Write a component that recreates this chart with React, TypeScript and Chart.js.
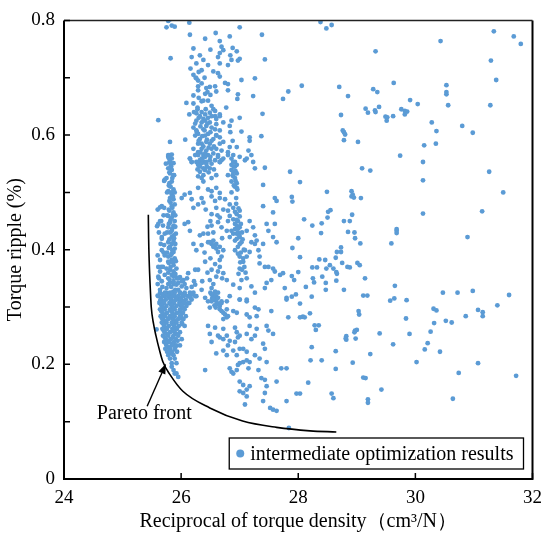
import React, { useEffect, useRef } from "react";
import { Chart, registerables } from "chart.js";

Chart.register(...registerables);

// ---------- axis settings ----------
const xMin = 24;
const xMax = 32;
const xStep = 2;
const yMin = 0;
const yMax = 0.8;
const yStep = 0.2;
const yMinorStep = 0.1;

const xTitle = "Reciprocal of torque density（cm³/N）";
const yTitle = "Torque ripple (%)";
const legendLabel = "intermediate optimization results";
const annotationText = "Pareto front";

// ---------- Pareto front curve ----------
const paretoX = [25.44, 25.445, 25.455, 25.47, 25.49, 25.53, 25.57, 25.63, 25.69, 25.81, 26.03, 26.49, 27.05, 27.63, 28.2, 28.65];
const paretoY = [0.461, 0.42, 0.38, 0.34, 0.3, 0.27, 0.25, 0.225, 0.204, 0.182, 0.153, 0.124, 0.101, 0.09, 0.084, 0.082];

// arrow: tail (near text) -> tip (on the front)
const arrowX = [25.42, 25.74];
const arrowY = [0.127, 0.201];
const annotationPos = [24.56, 0.113];

// ---------- scatter data ----------
const upperCloud: [number, number][] = [
  [25.78,0.799],[25.81,0.802],[25.75,0.788],[25.84,0.791],[25.89,0.789],[26.14,0.796],[27.00,0.788],[26.59,0.778],[26.15,0.775],[26.41,0.768],
  [26.66,0.764],[26.83,0.772],[27.38,0.775],[26.21,0.751],[26.50,0.749],[26.69,0.754],[26.72,0.748],[26.88,0.752],[26.95,0.746],[25.82,0.734],
  [27.43,0.732],[26.18,0.736],[26.32,0.739],[26.66,0.743],[26.63,0.736],[26.84,0.739],[27.00,0.733],[26.86,0.731],[26.97,0.730],[26.26,0.725],
  [26.38,0.731],[26.46,0.722],[26.66,0.725],[26.80,0.722],[26.16,0.716],[26.35,0.713],[26.55,0.711],[26.63,0.708],[26.21,0.705],[26.26,0.699],
  [26.66,0.702],[26.29,0.695],[27.03,0.696],[27.26,0.699],[26.75,0.691],[26.80,0.689],[26.29,0.685],[26.43,0.682],[26.49,0.684],[26.58,0.685],
  [26.60,0.676],[26.80,0.678],[26.29,0.678],[26.41,0.672],[26.21,0.669],[26.97,0.671],[27.23,0.668],[27.83,0.676],[27.74,0.663],[26.09,0.656],
  [26.21,0.655],[26.35,0.659],[26.52,0.651],[26.55,0.645],[26.77,0.648],[26.96,0.663],[26.14,0.636],[26.26,0.638],[26.41,0.636],[26.49,0.639],
  [26.58,0.642],[26.66,0.636],[27.00,0.630],[27.39,0.637],[25.61,0.626],[26.86,0.625],[26.83,0.616],[26.72,0.622],[27.03,0.606],[27.17,0.596],
  [27.17,0.590],[27.37,0.598],[25.81,0.588],[26.07,0.592],[25.78,0.565],[25.84,0.566],[25.81,0.553],[26.15,0.559],[26.18,0.553],[26.66,0.553],
  [26.80,0.570],[26.95,0.579],[26.89,0.565],[27.15,0.573],[27.20,0.565],[27.23,0.553],[27.09,0.556],
  [26.21,0.613],[26.26,0.608],[26.24,0.599],[26.29,0.602],[26.32,0.593],[26.38,0.610],[26.43,0.616],[26.35,0.622],[26.49,0.622],[26.52,0.613],
  [26.58,0.610],[26.60,0.619],[26.66,0.608],[26.46,0.602],[26.41,0.599],[26.35,0.585],[26.29,0.585],[26.43,0.588],[26.49,0.585],[26.55,0.593],
  [26.60,0.599],[26.66,0.596],[26.72,0.588],[26.52,0.576],[26.43,0.573],[26.35,0.576],[26.29,0.570],[26.38,0.565],[26.46,0.565],[26.55,0.568],
  [26.60,0.576],[26.69,0.573],[26.49,0.556],[26.58,0.556],[26.38,0.553],[26.26,0.553],[26.32,0.550],[26.43,0.550],[26.72,0.559],[26.63,0.565],
  [26.21,0.576],[26.24,0.565],[26.66,0.585],[26.52,0.633],[26.58,0.633],[26.60,0.628],[26.66,0.633],[26.46,0.630],[26.32,0.633],[26.26,0.625],
  [26.41,0.625],[26.84,0.605],[26.88,0.590],[26.83,0.579],[26.92,0.553],[26.86,0.548],
];

const middleCloud: [number, number][] = [
  [26.15,0.559],[26.18,0.553],[26.29,0.565],[26.32,0.556],[26.35,0.551],[26.41,0.562],[26.43,0.553],[26.38,0.542],[26.32,0.536],[26.35,0.525],
  [26.38,0.519],[26.49,0.542],[26.52,0.525],[26.60,0.530],[26.66,0.553],[26.63,0.562],[26.69,0.556],[26.80,0.530],[26.89,0.536],[26.92,0.525],
  [26.95,0.516],[26.92,0.510],[26.86,0.519],[26.95,0.548],[27.00,0.562],[26.80,0.565],[27.12,0.559],[27.26,0.542],[27.43,0.543],[27.40,0.513],
  [26.29,0.508],[26.46,0.505],[26.52,0.502],[26.60,0.508],[26.66,0.499],[26.06,0.496],[26.01,0.490],[26.15,0.499],[26.18,0.488],[26.21,0.473],
  [26.29,0.479],[26.38,0.482],[26.52,0.493],[26.58,0.485],[26.66,0.490],[26.75,0.488],[26.83,0.479],[26.80,0.468],[26.72,0.470],[26.60,0.473],
  [26.52,0.462],[26.66,0.456],[26.63,0.448],[26.69,0.439],[26.52,0.442],[26.46,0.428],[26.32,0.425],[26.38,0.428],[26.15,0.433],[26.12,0.448],
  [26.06,0.445],[26.21,0.410],[26.35,0.408],[26.26,0.399],[26.46,0.413],[26.52,0.410],[26.58,0.408],[26.60,0.402],[26.55,0.416],[26.66,0.382],
  [26.69,0.388],[26.66,0.370],[26.63,0.362],[26.72,0.359],[26.60,0.353],[26.52,0.365],[26.41,0.379],[26.29,0.365],[26.24,0.365],[26.12,0.359],
  [26.49,0.347],[26.78,0.347],[26.89,0.339],[27.00,0.333],[27.03,0.347],[27.12,0.350],[27.00,0.367],[27.06,0.379],[27.12,0.388],[27.09,0.399],
  [27.17,0.396],[27.26,0.410],[27.32,0.399],[27.34,0.388],[27.34,0.376],[27.43,0.370],[27.49,0.370],[27.57,0.367],[27.60,0.362],[27.54,0.347],
  [27.46,0.342],[27.43,0.333],[27.20,0.336],[27.26,0.325],[27.12,0.313],[27.00,0.313],[26.83,0.319],[26.78,0.310],[27.77,0.333],[27.80,0.316],
  [27.69,0.356],[27.74,0.359],[27.57,0.422],[27.63,0.413],[27.49,0.433],[27.46,0.445],[27.60,0.445],[27.57,0.465],[27.40,0.476],[27.60,0.490],
  [27.63,0.485],[27.17,0.450],[27.23,0.439],[27.12,0.433],[27.26,0.425],[27.29,0.416],[27.20,0.413],[27.40,0.410],
  [26.89,0.473],[26.95,0.462],[26.97,0.450],[26.92,0.445],[27.00,0.439],[26.95,0.428],[27.00,0.422],[27.03,0.413],[26.97,0.405],[26.92,0.416],
  [26.86,0.433],[26.89,0.453],[27.00,0.468],[26.83,0.459],[26.80,0.450],[26.78,0.433],[26.83,0.422],[26.92,0.436],[26.97,0.430],[26.95,0.442],
  [26.89,0.428],[26.95,0.419],[26.92,0.399],[26.97,0.393],[27.00,0.388],[26.86,0.559],[26.89,0.553],[26.92,0.545],[26.86,0.539],[26.95,0.533],
  [26.89,0.528],[26.95,0.508],[26.29,0.548],[26.35,0.559],[26.32,0.545],[26.38,0.530],[26.41,0.539],[26.29,0.528],[26.49,0.413],[26.60,0.410],
  [26.66,0.405],[26.72,0.399],[26.63,0.396],[26.55,0.405],[26.52,0.333],[26.58,0.327],[26.63,0.325],[26.55,0.319],[26.60,0.313],[26.69,0.310],
  [26.52,0.310],[26.24,0.339],[26.35,0.330],[26.26,0.319],[26.41,0.316],
];

const leftBand: [number, number][] = [
  [25.81,0.565],[25.84,0.559],[25.80,0.553],[25.82,0.548],[25.84,0.539],[25.81,0.533],[25.75,0.525],[25.71,0.520],[25.84,0.519],[25.82,0.510],
  [25.87,0.505],[25.84,0.496],[25.87,0.488],[25.82,0.482],[25.67,0.476],[25.71,0.473],[25.85,0.473],[25.87,0.465],[25.84,0.456],[25.89,0.450],
  [25.87,0.442],[25.64,0.450],[25.61,0.445],[25.69,0.442],[25.84,0.433],[25.91,0.428],[25.72,0.428],[25.84,0.422],[25.67,0.419],[25.87,0.415],
  [25.71,0.408],[25.81,0.405],[25.89,0.402],[25.67,0.399],[25.84,0.393],[25.72,0.390],[25.89,0.385],[25.64,0.382],[25.78,0.379],[25.87,0.373],
  [25.69,0.370],[25.92,0.367],[25.81,0.365],[25.64,0.362],[25.72,0.356],[25.87,0.353],[25.95,0.350],[26.04,0.347],[25.67,0.345],[25.81,0.342],
  [25.92,0.339],[26.01,0.336],[26.09,0.333],[25.75,0.333],[25.64,0.330],[25.87,0.327],[25.98,0.325],[26.06,0.322],[26.15,0.319],[25.72,0.319],
  [25.81,0.316],[25.92,0.313],[26.04,0.310],[25.64,0.310],[26.12,0.307],
  [25.78,0.562],[25.87,0.551],[25.78,0.542],[25.87,0.530],[25.80,0.516],[25.78,0.502],[25.81,0.490],[25.89,0.479],[25.80,0.468],[25.78,0.459],
  [25.81,0.448],[25.78,0.439],[25.87,0.425],[25.78,0.413],[25.85,0.399],[25.78,0.388],[25.84,0.382],[25.75,0.367],[25.87,0.362],[25.78,0.350],
  [25.87,0.345],[25.75,0.325],[25.89,0.319],[25.84,0.310],[25.98,0.313],[25.95,0.330],[26.01,0.345],
  [25.64,0.474],[25.59,0.441],[25.67,0.422],[25.72,0.522],[25.61,0.370],[25.61,0.353],[25.58,0.261],
  [25.90,0.358],[25.98,0.352],[26.06,0.340],[26.10,0.350],[26.18,0.335],[26.22,0.345],[25.95,0.342],
];

// extra points in the densest columns
const denseExtras: [number, number][] = [
  [25.79,0.560],[25.83,0.545],[25.80,0.535],[25.85,0.525],[25.79,0.512],[25.83,0.500],[25.86,0.493],[25.80,0.485],[25.84,0.476],[25.79,0.470],
  [25.86,0.461],[25.82,0.452],[25.79,0.445],[25.85,0.437],[25.81,0.430],[25.88,0.420],[25.80,0.418],[25.84,0.410],[25.79,0.403],[25.87,0.396],
  [25.82,0.390],[25.79,0.377],[25.86,0.378],[25.82,0.370],[25.78,0.360],[25.84,0.356],[25.80,0.348],[25.88,0.340],[25.83,0.335],[25.78,0.340],
  [25.85,0.325],[25.80,0.322],[25.90,0.330],[25.76,0.395],[25.76,0.430],[25.76,0.460],[25.76,0.500],[25.90,0.460],[25.90,0.440],[25.90,0.410],
  [25.91,0.380],[25.90,0.355],[25.93,0.350],[25.74,0.550],[25.88,0.530],[25.89,0.500],
  [25.60,0.470],[25.62,0.430],[25.65,0.410],[25.60,0.390],[25.66,0.370],[25.62,0.350],[25.68,0.335],[25.60,0.320],[25.70,0.460],[25.66,0.450],
  [25.70,0.395],[25.60,0.340],
  [26.22,0.640],[26.28,0.645],[26.35,0.640],[26.42,0.645],[26.30,0.630],[26.38,0.628],[26.45,0.620],[26.24,0.620],[26.33,0.615],[26.40,0.608],
  [26.50,0.605],[26.27,0.605],[26.36,0.598],[26.44,0.592],[26.52,0.590],[26.30,0.590],[26.38,0.580],[26.47,0.578],[26.56,0.580],[26.33,0.570],
  [26.41,0.568],[26.50,0.562],[26.36,0.558],[26.44,0.545],[26.52,0.550],[26.40,0.540],[26.47,0.535],[26.28,0.540],[26.56,0.540],[26.60,0.600],
  [26.25,0.700],[26.30,0.710],[26.35,0.690],[26.40,0.700],[26.45,0.675],[26.30,0.665],[26.38,0.660],[26.46,0.660],[26.28,0.648],[26.50,0.670],
  [26.90,0.545],[26.93,0.537],[26.88,0.530],[26.93,0.520],[26.90,0.512],[26.96,0.505],[26.94,0.480],[26.98,0.472],[26.92,0.466],[27.00,0.458],
  [26.95,0.452],[27.02,0.445],[26.97,0.437],[27.04,0.430],[26.99,0.425],[27.05,0.418],[27.00,0.410],[27.07,0.400],[27.02,0.395],[27.06,0.385],
  [27.01,0.378],[27.08,0.370],[27.04,0.365],[26.98,0.358],[27.10,0.360],[26.94,0.490],[26.86,0.500],
  [26.35,0.490],[26.42,0.470],[26.50,0.450],[26.55,0.430],[26.45,0.440],[26.62,0.460],[26.70,0.420],[26.40,0.395],[26.50,0.385],[26.58,0.375],
  [26.45,0.360],[26.70,0.350],[26.36,0.345],[26.55,0.340],
  [26.50,0.325],[26.56,0.322],[26.60,0.318],[26.53,0.315],[26.62,0.306],[26.57,0.303],
];

// dense blob just above the Pareto front: [y, x values in that row]
const blobRows: [number, number[]][] = [
  [0.325,[25.64,25.72,25.81,25.89,25.98,26.06,26.15,26.21]],
  [0.322,[25.68,25.85,26.02,26.18]],
  [0.319,[25.61,25.69,25.78,25.87,25.95,26.04,26.12,26.24]],
  [0.316,[25.66,25.83,26.0,26.16]],
  [0.313,[25.65,25.74,25.82,25.91,25.99,26.08,26.18]],
  [0.310,[25.7,25.86,26.02]],
  [0.307,[25.63,25.71,25.80,25.88,25.97,26.05,26.14]],
  [0.304,[25.66,25.83,25.98]],
  [0.302,[25.67,25.75,25.84,25.92,26.01,26.09]],
  [0.299,[25.7,25.87,26.03]],
  [0.296,[25.64,25.72,25.81,25.89,25.98,26.06]],
  [0.293,[25.66,25.83,25.99]],
  [0.290,[25.68,25.76,25.85,25.93,26.03]],
  [0.287,[25.7,25.87,26.0]],
  [0.284,[25.65,25.73,25.81,25.89,25.98,26.08]],
  [0.281,[25.67,25.84,26.0]],
  [0.279,[25.69,25.78,25.87,25.95,26.04]],
  [0.276,[25.72,25.9]],
  [0.273,[25.67,25.75,25.84,25.92,26.01]],
  [0.270,[25.7,25.86,26.02]],
  [0.267,[25.71,25.79,25.88,25.96,26.06]],
  [0.264,[25.74,25.9]],
  [0.262,[25.68,25.76,25.85,25.93]],
  [0.259,[25.7,25.86]],
  [0.256,[25.72,25.81,25.89,25.98]],
  [0.253,[25.76,25.92]],
  [0.250,[25.69,25.78,25.87,25.95]],
  [0.247,[25.72,25.86]],
  [0.244,[25.74,25.82,25.91,26.01]],
  [0.241,[25.78,25.94]],
  [0.239,[25.71,25.80,25.88]],
  [0.236,[25.74,25.86]],
  [0.233,[25.75,25.84,25.92,25.98]],
  [0.230,[25.78,25.9]],
  [0.227,[25.73,25.81,25.89]],
  [0.224,[25.8]],
  [0.222,[25.76,25.85,25.93]],
  [0.219,[25.83]],
  [0.216,[25.78,25.87]],
  [0.210,[25.81,25.89]],
  [0.202,[25.84,25.92]],
  [0.190,[25.87]],
  [0.184,[25.89]],
];

const lowerCloud: [number, number][] = [
  [26.46,0.310],[26.49,0.299],[26.66,0.296],[26.72,0.290],[26.80,0.284],[26.89,0.293],[26.95,0.290],[27.00,0.313],[27.12,0.310],[27.12,0.287],
  [27.17,0.282],[27.26,0.299],[27.32,0.296],[27.29,0.284],[27.17,0.267],[27.12,0.253],[27.20,0.244],[27.26,0.250],[27.29,0.262],[27.46,0.267],
  [27.49,0.259],[27.54,0.293],[27.57,0.253],[27.80,0.313],[27.83,0.282],[26.49,0.253],[26.52,0.239],[26.63,0.250],[26.66,0.247],[26.72,0.244],
  [26.78,0.250],[26.83,0.241],[26.92,0.239],[26.95,0.216],[27.00,0.227],[27.12,0.222],[27.26,0.216],[27.34,0.210],[27.46,0.204],[27.43,0.227],
  [27.40,0.236],[26.41,0.190],[26.60,0.219],[26.72,0.224],[26.78,0.216],[26.83,0.193],[26.86,0.187],[26.89,0.184],[26.95,0.190],[26.97,0.199],
  [27.00,0.202],[27.06,0.204],[27.12,0.207],[27.17,0.204],[27.15,0.193],[27.00,0.170],[27.06,0.164],[27.00,0.153],[27.06,0.150],[27.12,0.156],
  [27.17,0.162],[27.12,0.144],[27.32,0.190],[27.37,0.176],[27.43,0.173],[27.46,0.162],[27.43,0.150],[27.63,0.170],[27.71,0.193],[27.80,0.136],
  [27.52,0.124],[27.57,0.121],[27.63,0.119],[27.40,0.136],[27.09,0.130],[27.80,0.193],
  [26.52,0.322],[26.58,0.319],[26.55,0.313],[26.60,0.310],[26.63,0.305],[26.66,0.302],[26.59,0.299],[26.69,0.293],[26.75,0.287],[26.78,0.282],
  [26.72,0.279],[26.63,0.316],[26.69,0.307],[26.78,0.296],
  [26.46,0.267],[26.58,0.264],[26.72,0.262],[26.92,0.264],[26.95,0.256],[27.00,0.250],[26.80,0.233],[26.89,0.224],[27.06,0.227],[26.97,0.247],
  [25.84,0.196],[25.92,0.184],[25.95,0.178],[27.84,0.089],[27.97,0.149],
];

const rightScatter: [number, number][] = [
  [28.38,0.797],[28.48,0.786],[28.57,0.792],[31.34,0.781],[31.68,0.772],[31.80,0.759],[30.43,0.764],[29.32,0.746],[31.29,0.730],[31.38,0.696],
  [28.06,0.686],[28.70,0.684],[28.85,0.668],[29.28,0.680],[29.35,0.675],[29.63,0.691],[30.53,0.687],[30.53,0.675],[30.53,0.671],[30.56,0.652],
  [29.91,0.661],[30.04,0.654],[29.15,0.646],[29.19,0.639],[29.31,0.643],[29.32,0.640],[29.38,0.649],[29.49,0.632],[29.52,0.631],[29.51,0.625],
  [29.62,0.633],[29.76,0.645],[29.82,0.642],[29.86,0.641],[29.82,0.636],[28.73,0.635],[31.28,0.652],[30.28,0.622],[30.36,0.607],[30.80,0.616],
  [30.98,0.604],[28.76,0.608],[28.78,0.605],[28.80,0.601],[28.78,0.591],[29.02,0.588],[30.15,0.582],[30.35,0.585],[29.74,0.564],[30.13,0.553],
  [29.09,0.542],[29.23,0.538],[28.03,0.518],[31.26,0.536],[30.13,0.521],[28.49,0.501],[28.91,0.502],[28.93,0.496],[28.91,0.493],[28.95,0.491],
  [29.07,0.490],[31.50,0.500],[31.14,0.467],[30.13,0.463],[28.10,0.453],[28.24,0.442],[28.40,0.446],[28.39,0.429],[28.51,0.466],[28.55,0.469],
  [28.50,0.456],[28.78,0.450],[28.88,0.450],[28.92,0.461],[28.85,0.431],[28.97,0.420],[28.96,0.430],[29.06,0.411],[29.68,0.433],[29.68,0.429],
  [29.68,0.436],[29.59,0.411],[30.89,0.422],[28.66,0.396],[28.73,0.404],[28.73,0.396],
  [28.03,0.387],[28.64,0.386],[28.54,0.373],[28.60,0.367],[28.48,0.367],[28.36,0.383],[28.46,0.382],[28.24,0.369],[28.32,0.369],[28.25,0.350],
  [28.27,0.343],[28.41,0.353],[28.47,0.342],[28.47,0.330],[28.66,0.358],[28.65,0.361],[28.65,0.346],[28.75,0.377],[28.84,0.370],[28.88,0.369],
  [29.01,0.377],[29.05,0.373],[29.14,0.350],[29.11,0.320],[29.18,0.320],[28.78,0.330],[28.13,0.335],[28.23,0.318],[28.03,0.306],[28.20,0.289],
  [28.08,0.283],[28.11,0.282],[28.03,0.282],[28.28,0.268],[28.30,0.260],[28.35,0.268],[28.23,0.230],[28.21,0.207],[28.40,0.207],[28.17,0.168],
  [28.03,0.149],[28.64,0.223],[28.64,0.192],[28.57,0.149],[28.60,0.141],[28.82,0.249],[28.82,0.243],[28.81,0.245],[28.97,0.259],[29.00,0.260],
  [28.96,0.256],[28.98,0.245],[28.93,0.203],[29.03,0.293],[29.04,0.287],[29.11,0.177],[29.15,0.176],[29.19,0.139],[29.19,0.133],[29.23,0.218],
  [29.42,0.156],[29.39,0.254],[29.57,0.311],[29.64,0.315],[29.65,0.337],[29.62,0.235],[29.85,0.312],[29.84,0.280],[29.90,0.253],[30.02,0.204],
  [30.16,0.226],[30.21,0.237],[30.26,0.257],[30.32,0.272],[30.31,0.297],[30.36,0.294],[30.42,0.222],[30.47,0.325],[30.52,0.276],[30.62,0.273],
  [30.64,0.140],[30.72,0.325],[30.74,0.185],[30.86,0.284],[30.98,0.328],[31.07,0.295],[31.15,0.291],[31.15,0.284],[31.07,0.202],[31.40,0.303],
  [31.60,0.321],[31.72,0.180],
  [27.86,0.536],[27.89,0.492],[27.90,0.484],[27.90,0.403],[28.00,0.420],[27.89,0.354],[27.93,0.347],[28.00,0.361],[27.89,0.318],[27.96,0.322],
];

const FONT = '"Liberation Serif", "Times New Roman", Times, serif';
const POINT_COLOR = "rgb(91,155,213)";

const decorPlugin = {
  id: "decor",
  afterDraw(chart: any) {
    const { ctx, chartArea: a, scales } = chart;
    const xs = scales.x;
    const ys = scales.y;
    ctx.save();
    // frame
    ctx.strokeStyle = "#000";
    ctx.lineWidth = 2;
    ctx.beginPath();
    ctx.moveTo(a.left, a.top);
    ctx.lineTo(a.left, a.bottom);
    ctx.lineTo(a.right, a.bottom);
    ctx.lineTo(a.right, a.top);
    ctx.stroke();
    ctx.lineWidth = 1.5;
    ctx.strokeStyle = "#222";
    ctx.beginPath();
    ctx.moveTo(a.left, a.top);
    ctx.lineTo(a.right, a.top);
    ctx.stroke();

    // inward ticks
    ctx.strokeStyle = "#000";
    ctx.lineWidth = 1.5;
    ctx.beginPath();
    for (const t of xs.ticks) {
      const px = xs.getPixelForValue(t.value);
      ctx.moveTo(px, a.bottom);
      ctx.lineTo(px, a.bottom - 6);
    }
    const n = Math.round((yMax - yMin) / yMinorStep);
    for (let i = 0; i <= n; i++) {
      const py = ys.getPixelForValue(yMin + i * yMinorStep);
      ctx.moveTo(a.left, py);
      ctx.lineTo(a.left + 6, py);
    }
    ctx.stroke();

    // arrow
    const x0 = xs.getPixelForValue(arrowX[0]);
    const y0 = ys.getPixelForValue(arrowY[0]);
    const x1 = xs.getPixelForValue(arrowX[1]);
    const y1 = ys.getPixelForValue(arrowY[1]);
    const ang = Math.atan2(y1 - y0, x1 - x0);
    const headLen = 10;
    const headW = 3.8;
    const bx = x1 - headLen * Math.cos(ang);
    const by = y1 - headLen * Math.sin(ang);
    ctx.lineWidth = 1.4;
    ctx.beginPath();
    ctx.moveTo(x0, y0);
    ctx.lineTo(bx, by);
    ctx.stroke();
    ctx.fillStyle = "#000";
    ctx.beginPath();
    ctx.moveTo(x1, y1);
    ctx.lineTo(bx + headW * Math.sin(ang), by - headW * Math.cos(ang));
    ctx.lineTo(bx - headW * Math.sin(ang), by + headW * Math.cos(ang));
    ctx.closePath();
    ctx.fill();

    // annotation text
    ctx.font = `20px ${FONT}`;
    ctx.textAlign = "left";
    ctx.textBaseline = "middle";
    ctx.fillStyle = "#000";
    ctx.fillText(annotationText, xs.getPixelForValue(annotationPos[0]), ys.getPixelForValue(annotationPos[1]));

    // legend box
    const tw = ctx.measureText(legendLabel).width;
    const boxH = 31;
    const boxW = 21 + tw + 10;
    const bxR = a.right - 9;
    const byB = a.bottom - 10;
    const lx = bxR - boxW;
    const ly = byB - boxH;
    ctx.fillStyle = "#fff";
    ctx.fillRect(lx, ly, boxW, boxH);
    ctx.strokeStyle = "#000";
    ctx.lineWidth = 1.3;
    ctx.strokeRect(lx, ly, boxW, boxH);
    ctx.fillStyle = POINT_COLOR;
    ctx.beginPath();
    ctx.arc(lx + 11, ly + boxH / 2, 4, 0, Math.PI * 2);
    ctx.fill();
    ctx.fillStyle = "#000";
    ctx.fillText(legendLabel, lx + 21, ly + boxH / 2 + 1);
    ctx.restore();
  },
};

export default function App() {
  const canvasRef = useRef<HTMLCanvasElement | null>(null);

  useEffect(() => {
    document.body.style.margin = "0";
    const canvas = canvasRef.current;
    if (!canvas) return;

    const scatterData: { x: number; y: number }[] = [];
    const pushPairs = (arr: [number, number][]) => arr.forEach(([x, y]) => scatterData.push({ x, y }));
    pushPairs(upperCloud);
    pushPairs(middleCloud);
    pushPairs(leftBand);
    pushPairs(denseExtras);
    blobRows.forEach(([y, xsRow]) => xsRow.forEach((x) => scatterData.push({ x, y })));
    pushPairs(lowerCloud);
    pushPairs(rightScatter);

    const paretoData = paretoX.map((x, i) => ({ x, y: paretoY[i] }));

    const chart = new Chart(canvas, {
      type: "scatter",
      data: {
        datasets: [
          {
            label: "Pareto front",
            data: paretoData,
            showLine: true,
            borderColor: "#000",
            borderWidth: 1.6,
            pointRadius: 0,
            pointHoverRadius: 0,
            cubicInterpolationMode: "monotone",
            fill: false,
          } as any,
          {
            label: legendLabel,
            data: scatterData,
            backgroundColor: POINT_COLOR,
            borderWidth: 0,
            pointRadius: 2.4,
            pointHoverRadius: 2.4,
          },
        ],
      },
      options: {
        animation: false,
        responsive: false,
        events: [],
        layout: { padding: { top: 13, right: 17, left: 0, bottom: 0 } },
        plugins: { legend: { display: false }, tooltip: { enabled: false } },
        scales: {
          x: {
            type: "linear",
            min: xMin,
            max: xMax,
            grid: { display: false, drawTicks: false },
            border: { display: false },
            ticks: { stepSize: xStep, color: "#000", font: { family: FONT, size: 19 }, padding: 8 },
            title: { display: true, text: xTitle, color: "#000", font: { family: FONT, size: 20 }, padding: { top: 0, bottom: 5 } },
            afterFit: (s: any) => { s.height = 60; },
          },
          y: {
            type: "linear",
            min: yMin,
            max: yMax,
            grid: { display: false, drawTicks: false },
            border: { display: false },
            ticks: { stepSize: yStep, color: "#000", font: { family: FONT, size: 19 }, padding: 9 },
            title: { display: true, text: yTitle, color: "#000", font: { family: FONT, size: 20 }, padding: { top: 4, bottom: 0 } },
            afterFit: (s: any) => { s.width = 64; },
          },
        },
      },
      plugins: [decorPlugin],
    });
    return () => chart.destroy();
  }, []);

  return (
    <div style={{ width: 550, height: 539 }}>
      <canvas ref={canvasRef} width={550} height={539} style={{ display: "block", width: 550, height: 539 }} />
    </div>
  );
}
